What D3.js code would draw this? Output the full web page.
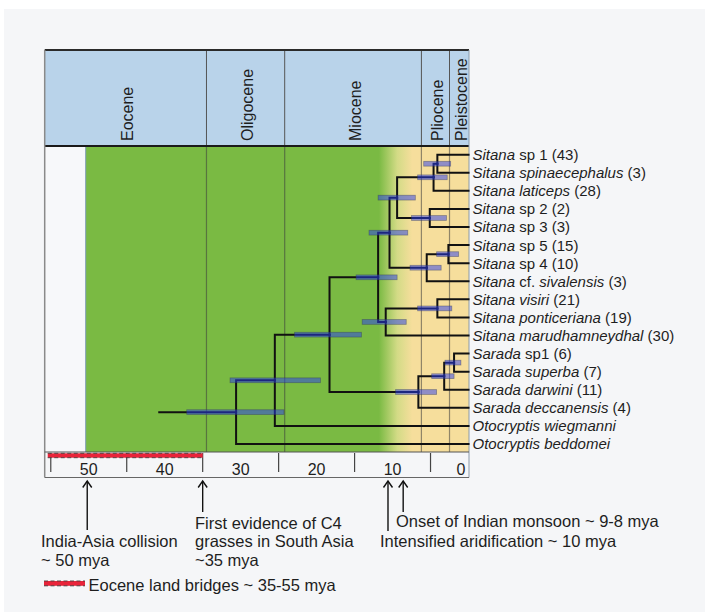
<!DOCTYPE html>
<html><head><meta charset="utf-8">
<script src="https://cdn.jsdelivr.net/npm/d3@7"></script>
<style>body{margin:0;background:#fff}svg{display:block}</style>
</head><body>
<script>
// ---------------- DATA ----------------
const tipLabels = [
  "*Sitana* sp 1 (43)",
  "*Sitana spinaecephalus* (3)",
  "*Sitana laticeps* (28)",
  "*Sitana* sp 2 (2)",
  "*Sitana* sp 3 (3)",
  "*Sitana* sp 5 (15)",
  "*Sitana* sp 4 (10)",
  "*Sitana* cf. *sivalensis* (3)",
  "*Sitana visiri* (21)",
  "*Sitana ponticeriana* (19)",
  "*Sitana marudhamneydhal* (30)",
  "*Sarada* sp1 (6)",
  "*Sarada superba* (7)",
  "*Sarada darwini* (11)",
  "*Sarada deccanensis* (4)",
  "*Otocryptis wiegmanni*",
  "*Otocryptis beddomei*"
];
// internal nodes: children are node ids or tip indices
const nodeIds      = ["root","n2","n3","sitana","sitA","sitB","nLat","nSp1","nSp23","nSiv","nSp54","nVPM","nVP","sarada","sarSub","sarSubSub"];
const nodeChildren = [["n2",16],["n3",15],["sitana","sarada"],["sitA","nVPM"],["sitB","nSiv"],["nLat","nSp23"],["nSp1",2],[0,1],[3,4],["nSp54",7],[5,6],["nVP",10],[8,9],["sarSub",14],["sarSubSub",13],[11,12]];
const nodeAge  = [30.6, 25.5, 18.3, 11.9, 10.4, 9.4, 4.6, 4.1, 5.1, 5.5, 2.65, 10.9, 4.1, 6.6, 3.2, 1.9];
const hpdLow   = [24.3, 19.5, 14.1,  9.4,  8.0, 7.0, 2.8, 2.35, 2.9, 3.6, 1.3,  8.2, 2.2, 4.2, 1.9, 1.0];
const hpdHigh  = [37.1, 31.4, 22.9, 14.8, 13.1, 11.9, 6.7, 5.9, 7.5, 7.7, 4.2, 14.0, 6.7, 9.6, 4.85, 3.1];
const rootStemAge = 40.85;

const periodNames = ["Eocene","Oligocene","Miocene","Pliocene","Pleistocene"];
const periodStart = [55.8, 34.5, 24.2, 6.2, 2.5];
const periodEnd   = [34.5, 24.2, 6.2, 2.5, 0];

const axisLabels = [50, 40, 30, 20, 10, 0];
const axisTicks  = [55, 45, 35, 25, 15, 5];

const greenStart = 50.4;          // green background begins
const aridGradient = [11.8, 7.4]; // green -> yellow transition
const landBridge = [55.4, 35];    // Eocene land bridges

const eventAges  = [50.2, 35, 10.6, 8.6];
const eventLines = [
  ["India-Asia collision", "~ 50 mya"],
  ["First evidence of C4", "grasses in South Asia", "~35 mya"],
  ["Intensified aridification ~ 10 mya"],
  ["Onset of Indian monsoon ~ 9-8 mya"]
];
const legendLabel = "Eocene land bridges ~ 35-55 mya";

// ---------------- LAYOUT ----------------
const W = 705, H = 612;
const font = "'Liberation Sans', Arial, sans-serif";
const frameL = 44.7, frameR = 469;
const headTop = 50, headBot = 146;
const plotTop = 147, plotBot = 452;
const axisBot = 477.5;

const x = d3.scaleLinear().domain([55.8, 0]).range([frameL, 468.5]);
const yTip = d3.scalePoint().domain(d3.range(tipLabels.length)).range([154.7, 444]);

const svg = d3.select("body").append("svg").attr("width", W).attr("height", H)
  .style("font-family", font);

svg.append("rect").attr("x", 4).attr("y", 9).attr("width", W - 4).attr("height", H - 9).attr("fill", "#f5f6f8");

const defs = svg.append("defs");
const grad = defs.append("linearGradient").attr("id", "arid")
  .attr("gradientUnits", "userSpaceOnUse")
  .attr("x1", x(aridGradient[0])).attr("x2", x(aridGradient[1])).attr("y1", 0).attr("y2", 0);
grad.append("stop").attr("offset", 0).attr("stop-color", "#7aba43");
grad.append("stop").attr("offset", 0.55).attr("stop-color", "#d3db86");
grad.append("stop").attr("offset", 1).attr("stop-color", "#f6de9c");

// header
svg.append("rect").attr("x", frameL).attr("y", headTop).attr("width", frameR - frameL).attr("height", headBot - headTop)
  .attr("fill", "#b9d3ea");
periodNames.forEach((p, i) => {
  const x0 = x(periodStart[i]), x1 = i === periodNames.length - 1 ? frameR : x(periodEnd[i]);
  const cx = (x0 + x1) / 2 + 7.5;
  svg.append("text").attr("transform", `translate(${cx},141) rotate(-90)`)
    .attr("font-size", 16).attr("fill", "#1e1e1e").text(p);
});
periodStart.slice(1).forEach(t => {
  svg.append("line").attr("x1", x(t)).attr("x2", x(t)).attr("y1", headTop).attr("y2", headBot)
    .attr("stroke", "#555").attr("stroke-width", 1);
});

// plot background
svg.append("rect").attr("x", frameL).attr("y", plotTop).attr("width", x(greenStart) - frameL).attr("height", plotBot - plotTop)
  .attr("fill", "#f7f8fa");
svg.append("rect").attr("x", x(greenStart)).attr("y", plotTop).attr("width", frameR - x(greenStart)).attr("height", plotBot - plotTop)
  .attr("fill", "url(#arid)");
svg.append("line").attr("x1", x(greenStart)).attr("x2", x(greenStart)).attr("y1", plotTop).attr("y2", plotBot)
  .attr("stroke", "#7d9bb5").attr("stroke-width", 1);
periodStart.slice(1).forEach(t => {
  svg.append("line").attr("x1", x(t)).attr("x2", x(t)).attr("y1", plotTop).attr("y2", plotBot)
    .attr("stroke", "#3d3d3d").attr("stroke-opacity", 0.55).attr("stroke-width", 1.2);
});

// frame lines
svg.append("line").attr("x1", frameL).attr("x2", frameR).attr("y1", headTop).attr("y2", headTop).attr("stroke", "#2a2a2a").attr("stroke-width", 2);
svg.append("line").attr("x1", frameL).attr("x2", frameR).attr("y1", headBot).attr("y2", headBot).attr("stroke", "#1a1a1a").attr("stroke-width", 2);
svg.append("line").attr("x1", frameL).attr("x2", frameL).attr("y1", headTop).attr("y2", axisBot).attr("stroke", "#8a8a8a").attr("stroke-width", 1.5);
svg.append("line").attr("x1", frameR).attr("x2", frameR).attr("y1", headTop).attr("y2", axisBot).attr("stroke", "#8a9aaa").attr("stroke-width", 1);
svg.append("line").attr("x1", frameL).attr("x2", frameR).attr("y1", plotBot).attr("y2", plotBot).attr("stroke", "#555").attr("stroke-width", 1.2);
svg.append("line").attr("x1", frameL).attr("x2", frameR).attr("y1", axisBot).attr("y2", axisBot).attr("stroke", "#666").attr("stroke-width", 1.2);

// ---------------- TREE ----------------
const pos = {};
tipLabels.forEach((l, i) => { pos[i] = { x: x(0), y: yTip(i) }; });
function place(id) {
  const k = nodeIds.indexOf(id);
  const ch = nodeChildren[k].map(c => (typeof c === "number") ? pos[c] : place(c));
  const p = { x: x(nodeAge[k]), y: d3.mean(ch, d => d.y), k };
  pos[id] = p;
  return p;
}
place("root");

const treeG = svg.append("g").attr("fill", "none").attr("stroke", "#111").attr("stroke-width", 2)
  .attr("stroke-linecap", "square");
nodeIds.forEach((id, k) => {
  const p = pos[id];
  nodeChildren[k].forEach(c => {
    const q = pos[c];
    treeG.append("path").attr("d", `M${p.x},${p.y}V${q.y}H${q.x}`);
  });
});
treeG.append("path").attr("d", `M${x(rootStemAge)},${pos.root.y}H${pos.root.x}`).attr("stroke-linecap", "butt");

// HPD bars
nodeIds.forEach((id, k) => {
  const p = pos[id];
  svg.append("rect").attr("x", x(hpdHigh[k])).attr("y", p.y - 2.4)
    .attr("width", x(hpdLow[k]) - x(hpdHigh[k])).attr("height", 4.8)
    .attr("fill", "rgb(40,60,240)").attr("fill-opacity", 0.5)
    .attr("stroke", "#333a55").attr("stroke-opacity", 0.45).attr("stroke-width", 0.8);
});

// tip labels
tipLabels.forEach((lab, i) => {
  const t = svg.append("text").attr("x", 472.5).attr("y", yTip(i)).attr("dy", "0.36em")
    .attr("font-size", 15).attr("fill", "#1e1e1e");
  lab.split("*").forEach((seg, j) => {
    if (!seg) return;
    t.append("tspan").attr("font-style", j % 2 === 1 ? "italic" : "normal").text(seg);
  });
});

// ---------------- AXIS ----------------
axisTicks.forEach(t => {
  svg.append("line").attr("x1", x(t)).attr("x2", x(t)).attr("y1", 453).attr("y2", 472)
    .attr("stroke", "#444").attr("stroke-width", 1.2);
});
function dashedBar(x0, x1, y0, h) {
  svg.append("rect").attr("x", x0).attr("y", y0).attr("width", x1 - x0).attr("height", h).attr("fill", "#e8243a");
  [y0, y0 + h].forEach(yy => {
    svg.append("line").attr("x1", x0).attr("x2", x1).attr("y1", yy).attr("y2", yy)
      .attr("stroke", "#4a3a3a").attr("stroke-width", 0.9).attr("stroke-dasharray", "4,2.5");
  });
}
dashedBar(x(landBridge[0]), x(landBridge[1]), 453.3, 4.4);
axisLabels.forEach(t => {
  svg.append("text").attr("x", Math.min(x(t), frameR - 8)).attr("y", 475).attr("text-anchor", "middle")
    .attr("font-size", 16).attr("fill", "#1e1e1e").text(t);
});

// ---------------- EVENTS ----------------
const arrowBottoms = [530, 512, 531, 512];
const textStarts = [41, 195, 380, 396];
const textBaselines = [547.3, 528.5, 546.5, 527];
eventAges.forEach((t, i) => {
  const ax = x(t);
  svg.append("line").attr("x1", ax).attr("x2", ax).attr("y1", 481).attr("y2", arrowBottoms[i])
    .attr("stroke", "#111").attr("stroke-width", 1.4);
  svg.append("path").attr("d", `M${ax - 4.5},${487.5}L${ax},${481}L${ax + 4.5},${487.5}`)
    .attr("fill", "none").attr("stroke", "#111").attr("stroke-width", 1.4);
  eventLines[i].forEach((ln, j) => {
    svg.append("text").attr("x", textStarts[i]).attr("y", textBaselines[i] + j * 18.6)
      .attr("font-size", 16.5).attr("fill", "#1e1e1e").text(ln);
  });
});

// legend
dashedBar(44, 85, 581, 4.8);
svg.append("text").attr("x", 88.5).attr("y", 590.7).attr("font-size", 16.5).attr("fill", "#1e1e1e").text(legendLabel);
</script>
</body></html>
